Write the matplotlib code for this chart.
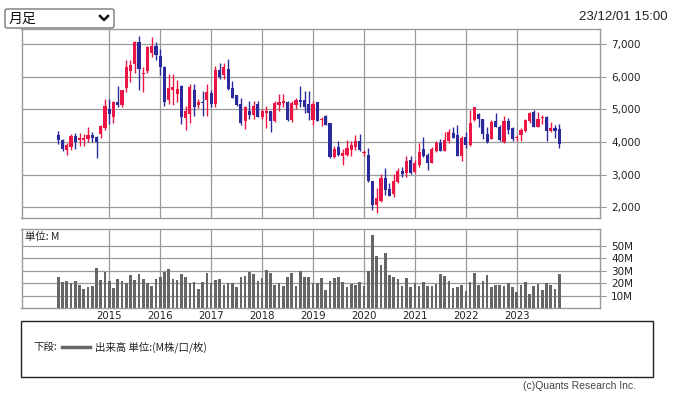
import matplotlib
matplotlib.use("Agg")
import matplotlib.pyplot as plt
from matplotlib.patches import Rectangle, FancyBboxPatch
from matplotlib.lines import Line2D
import numpy as np
import pandas as pd

# monthly OHLC (yen) and volume (million shares), Jan 2014 - Nov 2023
opens = [4230, 4070, 3750, 3860, 4200, 4050, 4070, 4080, 4230, 4170, 4240, 4420,
         5020, 4760, 5220, 5150, 5660, 6180, 6380, 7050, 6080, 6190, 6740, 6930,
         6650, 6300, 5280, 5590, 5460, 5710, 4740, 4870, 5590, 5130, 5230, 5280,
         5490, 5160, 6220, 6060, 6250, 5670, 5430, 5170, 4660, 4960, 4830, 5170,
         4780, 4880, 4940, 4660, 5140, 5190, 5240, 4680, 5140, 5290, 5290, 5170,
         4680, 5220, 4680, 4800, 4600, 3540, 3860, 3590, 3610, 3760, 3860, 4040,
         3660, 3610, 2810, 2070, 2210, 2890, 2560, 2400, 2790, 3120, 3050, 3450,
         3100, 3300, 3790, 3610, 3350, 3740, 3980, 3740, 4030, 4280, 4220, 3560,
         4160, 3910, 4680, 4850, 4700, 4260, 4110, 4660, 4470, 4010, 4660, 4420,
         4120, 4210, 4350, 4660, 4930, 4470, 4750, 4770, 4350, 4430, 4400]
highs = [4350, 4080, 3970, 4240, 4270, 4290, 4250, 4450, 4320, 4200, 4530, 5330,
         5330, 5250, 5710, 5600, 6520, 6520, 7110, 7250, 6310, 6930, 7210, 7060,
         6860, 6320, 6080, 6080, 5900, 5760, 5100, 5770, 5770, 5310, 5570, 5790,
         5590, 6340, 6430, 6410, 6550, 5880, 5430, 5340, 5090, 5260, 5270, 5270,
         5020, 5090, 4940, 5270, 5470, 5470, 5270, 5260, 5360, 5720, 5570, 5570,
         5260, 5220, 4760, 4830, 4600, 3890, 4020, 3780, 4070, 4020, 4220, 4240,
         3760, 3810, 2810, 2590, 3020, 3220, 2760, 3010, 3220, 3250, 3560, 3560,
         3450, 3960, 4150, 3660, 3860, 4030, 4080, 4300, 4400, 4470, 4510, 4190,
         4300, 4980, 5080, 4900, 4700, 4450, 4680, 4900, 4510, 4790, 4740, 4450,
         4210, 4420, 4700, 4930, 4980, 4930, 4820, 4790, 4610, 4510, 4560]
lows = [3940, 3730, 3620, 3750, 3780, 3890, 3890, 3990, 4010, 3500, 4130, 4370,
        4560, 4590, 5070, 5070, 5540, 5850, 6100, 5590, 5540, 6100, 6620, 6520,
        6050, 5120, 5180, 5150, 5230, 4560, 4380, 4590, 4790, 5050, 4790, 4790,
        5070, 5070, 5930, 5930, 5590, 5340, 5090, 4530, 4400, 4700, 4700, 4760,
        4700, 4420, 4320, 4630, 4940, 5070, 4660, 4630, 5020, 5070, 4880, 4680,
        4530, 4650, 4480, 4510, 3500, 3500, 3560, 3300, 3560, 3580, 3760, 3740,
        3560, 2790, 1930, 1820, 2180, 2380, 2350, 2330, 2740, 2940, 2940, 3020,
        3050, 3250, 3540, 3150, 3350, 3690, 3720, 3720, 3980, 4120, 3560, 3430,
        3820, 3890, 4640, 4450, 4080, 3980, 4080, 4450, 4030, 3980, 4240, 4030,
        4030, 4030, 4300, 4590, 4450, 4450, 4560, 4030, 4300, 4140, 3820]
closes = [4050, 3800, 3910, 4200, 3990, 4120, 4120, 4230, 4120, 4010, 4490, 5090,
          4850, 5230, 5150, 5590, 6300, 6360, 7050, 6230, 6130, 6900, 6950, 6670,
          6300, 5230, 5670, 5690, 5620, 4760, 4950, 5690, 5070, 5240, 5200, 5520,
          5180, 6220, 6000, 6290, 5620, 5360, 5140, 4600, 5070, 4830, 5110, 4780,
          4940, 4960, 4660, 5210, 5240, 5260, 4680, 5210, 5290, 5240, 5060, 4900,
          5170, 4660, 4710, 4530, 3540, 3790, 3610, 3660, 3810, 3910, 4020, 3760,
          3690, 2810, 2070, 2280, 2910, 2530, 2360, 2810, 3120, 3010, 3420, 3050,
          3350, 3710, 3560, 3370, 3790, 3980, 3740, 4050, 4320, 4140, 3560, 4120,
          3910, 4580, 5060, 4700, 4260, 4010, 4630, 4470, 4050, 4660, 4380, 4110,
          4160, 4380, 4680, 4900, 4450, 4720, 4770, 4330, 4430, 4330, 3950]
volume = [25.3, 21.0, 21.8, 20.0, 21.8, 18.6, 15.7, 17.3, 18.1, 32.4, 22.6, 29.0,
          21.8, 16.5, 23.4, 21.8, 20.0, 26.6, 22.6, 27.4, 23.4, 20.5, 17.8, 23.4,
          25.0, 29.0, 31.4, 23.4, 22.6, 27.4, 25.0, 20.0, 21.0, 15.4, 21.0, 28.2,
          20.0, 22.6, 23.4, 18.6, 20.0, 20.0, 17.3, 25.0, 25.8, 29.0, 27.4, 21.8,
          24.5, 30.6, 28.2, 18.6, 20.0, 18.1, 25.0, 28.2, 17.8, 29.8, 25.0, 25.0,
          20.0, 20.0, 24.5, 14.6, 21.8, 23.9, 24.7, 20.7, 17.3, 19.4, 18.6, 20.7,
          18.1, 29.8, 58.5, 41.8, 34.6, 43.9, 26.6, 24.7, 23.4, 17.8, 24.5, 17.3,
          20.0, 17.8, 20.7, 17.8, 17.8, 19.4, 27.4, 26.1, 21.8, 16.5, 17.3, 18.6,
          13.8, 20.7, 27.9, 18.6, 21.8, 26.6, 17.3, 18.6, 18.6, 17.8, 20.0, 17.3,
          12.8, 18.6, 20.7, 11.4, 17.8, 19.4, 14.6, 20.0, 18.6, 15.4, 27.4]
price_ticks = [2000, 3000, 4000, 5000, 6000, 7000]
vol_ticks = [10, 20, 30, 40, 50]

months = pd.date_range("2014-01-01", periods=len(closes), freq="MS")

W, H = 674, 396
CJK = ["Noto Sans CJK JP", "DejaVu Sans"]
UP = "#EC1646"
DOWN = "#2B2A9C"
GRID = "#9a9a9a"


def fx(px):
    return px / W


def fy(py):
    return 1 - py / H


fig = plt.figure(figsize=(W / 100, H / 100), dpi=100)

L, R = 21.5, 600
ax = fig.add_axes([fx(L), fy(218.3), fx(R) - fx(L), fy(29) - fy(218.3)])
axv = fig.add_axes([fx(L), fy(308.3), fx(R) - fx(L), fy(229) - fy(308.3)])

x = np.arange(len(closes))
o = np.array(opens)
c = np.array(closes)
cols = [UP if cc >= oo else DOWN for oo, cc in zip(o, c)]
year_idx = [i for i, m in enumerate(months) if m.month == 1 and i > 0]
year_lbl = [str(months[i].year) for i in year_idx]

for a in (ax, axv):
    a.set_xlim(-8.67, 127.6)
    for s in a.spines.values():
        s.set_color(GRID)
        s.set_linewidth(1)
    a.set_axisbelow(True)
    a.grid(True, color=GRID, lw=0.9)
    a.set_xticks(year_idx)
    a.yaxis.tick_right()
    a.tick_params(axis="y", length=4, width=0.8, color=GRID, pad=4,
                  labelsize=7.5, labelcolor="#222222")
    a.tick_params(axis="x", length=0)

# candles
ax.vlines(x, lows, highs, colors=cols, lw=1)
body_lo = np.minimum(o, c)
body_h = np.maximum(np.abs(c - o), 18)
ax.bar(x, body_h, bottom=body_lo, width=0.74, color=cols, lw=0)
ax.set_ylim(1668, 7462)
ax.set_yticks(price_ticks)
ax.set_yticklabels([f"{t:,}" for t in price_ticks])
ax.tick_params(axis="x", labelbottom=False)

# volume
axv.bar(x, volume, width=0.62, color="#666666", lw=0)
axv.set_ylim(0, 63.3)
axv.set_yticks(vol_ticks)
axv.set_yticklabels([f"{t}M" for t in vol_ticks])
axv.set_xticklabels(year_lbl)
axv.tick_params(axis="x", pad=2, labelsize=7.3, labelcolor="#222222")
fig.text(fx(25), fy(237), "単位: M", fontsize=7.5, va="center", family=CJK, color="#222222")

# header
box = FancyBboxPatch((fx(5), fy(28)), fx(114) - fx(5), fy(9) - fy(28),
                     boxstyle="round,pad=0,rounding_size=0.004",
                     transform=fig.transFigure, fc="white", ec="#777777", lw=1)
fig.add_artist(box)
fig.text(fx(9), fy(18.5), "月足", fontsize=10, va="center", family=CJK, color="#111111")
fig.add_artist(Line2D([fx(100), fx(104), fx(108)], [fy(16), fy(20), fy(16)],
                      transform=fig.transFigure, color="#111111", lw=1.8))
fig.text(fx(668), fy(17.5), "23/12/01 15:00", ha="right", va="center", fontsize=9.5,
         family="Liberation Sans", color="#222222")

# legend box
fig.add_artist(Rectangle((fx(21), fy(377)), fx(653) - fx(21), fy(321) - fy(377),
                         transform=fig.transFigure, fill=False, ec="#222222", lw=1))
fig.text(fx(33), fy(347), "下段:", fontsize=7.5, va="center", family=CJK, color="#222222")
fig.add_artist(Line2D([fx(62), fx(90)], [fy(347), fy(347)],
                      transform=fig.transFigure, color="#666666", lw=2.5))
fig.text(fx(95), fy(347), "出来高 単位:(M株/口/枚)", fontsize=7.5, va="center",
         family=CJK, color="#222222")
fig.text(fx(636), fy(386), "(c)Quants Research Inc.", ha="right", va="center",
         fontsize=7.5, family="Liberation Sans", color="#444444")

fig.savefig("out.png", dpi=100)
